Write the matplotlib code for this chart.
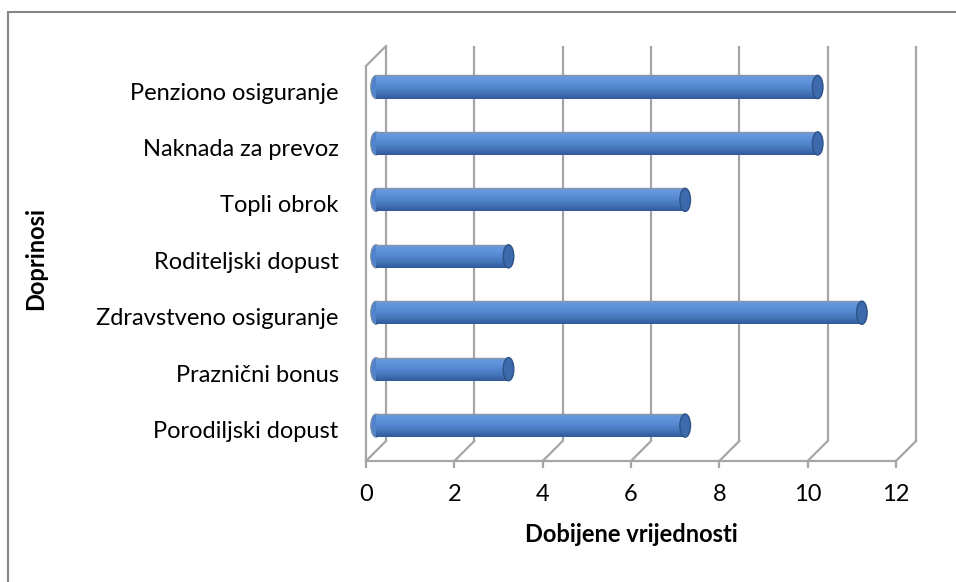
import numpy as np
import matplotlib.pyplot as plt
import matplotlib.transforms as mtransforms
from matplotlib.patches import Ellipse, Rectangle
from matplotlib.colors import LinearSegmentedColormap

plt.rcParams['font.family'] = ['Lato', 'DejaVu Sans']

kategorije = ['Porodiljski dopust', 'Praznični bonus', 'Zdravstveno osiguranje',
              'Roditeljski dopust', 'Topli obrok', 'Naknada za prevoz',
              'Penziono osiguranje']
vrijednosti = [7, 3, 11, 3, 7, 10, 10]
x_ticks = [0, 2, 4, 6, 8, 10, 12]

W, H = 956, 582
fig = plt.figure(figsize=(W / 100, H / 100), dpi=100)

# okvir grafikona (desna i donja ivica su izvan slike)
fig.patches.append(Rectangle((8 / W, -0.1), 1.2, (H - 12) / H + 0.1,
                             transform=fig.transFigure, fill=False,
                             edgecolor='#868686', linewidth=1.5))

# osa je u "srednjoj dubini" 3D prikaza
ax = fig.add_axes([376 / W, (H - 451) / H, 530 / W, 395 / H])
ax.set_xlim(0, 12)
ax.set_ylim(-0.45, 6.55)
for s in ax.spines.values():
    s.set_visible(False)
ax.patch.set_visible(False)

d = 10 / 100  # pomak dubine u inčima (10 px)
front = ax.transData + mtransforms.ScaledTranslation(-d, -d, fig.dpi_scale_trans)
back = ax.transData + mtransforms.ScaledTranslation(d, d, fig.dpi_scale_trans)
ident = mtransforms.IdentityTransform()
y0, y1 = ax.get_ylim()
grid_c = '#a6a6a6'
lw = 1.6
kw = dict(color=grid_c, lw=lw, clip_on=False, zorder=1)

# zadnji zid - mreža
for xv in x_ticks:
    ax.plot([xv, xv], [y0, y1], transform=back, solid_capstyle='butt', **kw)

# pod - kose linije od prednje do zadnje ivice
fwd = front.transform([(xv, y0) for xv in x_ticks])
bwd = back.transform([(xv, y0) for xv in x_ticks])
for (fx, fy), (bx, by) in zip(fwd, bwd):
    ax.plot([fx, bx], [fy, by], transform=ident, **kw)
ax.plot([0, 12], [y0, y0], transform=front, solid_capstyle='butt', **kw)
# oznake ispod prednje ivice
for fx, fy in fwd:
    ax.plot([fx, fx], [fy, fy - 6], transform=ident, **kw)

# lijevi bočni zid
ax.plot([0, 0], [y0, y1], transform=front, **kw)
ft = front.transform((0, y1))
bt = back.transform((0, y1))
ax.plot([ft[0], bt[0]], [ft[1], bt[1]], transform=ident, **kw)

# cilindri
cmap = LinearSegmentedColormap.from_list('cyl', ['#6a9be0', '#6194dc', '#5487cf',
                                                 '#4575b8', '#30599a'])
grad = np.linspace(0, 1, 64).reshape(-1, 1)
bh = 0.41
cap_w = 0.24
bars = ax.barh(range(len(kategorije)), vrijednosti, height=bh, left=0.0,
               color='#4f81c6', edgecolor='none', zorder=3)
for b, v in zip(bars, vrijednosti):
    yc = b.get_y() + bh / 2
    ax.add_patch(Ellipse((0.0, yc), cap_w, bh, facecolor='#5083c9',
                         edgecolor='#7f8fa6', lw=0.8, zorder=3, clip_on=False))
    im = ax.imshow(grad, cmap=cmap, aspect='auto', zorder=4,
                   extent=(0.0, v, yc - bh / 2, yc + bh / 2),
                   interpolation='bicubic')
    im.set_clip_path(b)
    ax.plot([0.0, v], [yc + bh / 2, yc + bh / 2], color='#8795aa', lw=1.0, zorder=5)
    ax.add_patch(Ellipse((v, yc), cap_w, bh, facecolor='#3c6aab',
                         edgecolor='#2d5388', lw=1.0, zorder=6))

ax.set_xlim(0, 12)
ax.set_ylim(y0, y1)

# oznake
ax.set_xticks(x_ticks)
ax.set_xticklabels([str(t) for t in x_ticks], fontsize=17)
ax.tick_params(axis='x', length=0, pad=24)
for lab in ax.get_xticklabels():
    lab.set_transform(lab.get_transform() +
                      mtransforms.ScaledTranslation(-d, 0, fig.dpi_scale_trans))
ax.set_yticks(range(len(kategorije)))
ax.set_yticklabels(kategorije, fontsize=17)
ax.tick_params(axis='y', length=0, pad=27)
for lab in ax.get_yticklabels():
    lab.set_transform(lab.get_transform() +
                      mtransforms.ScaledTranslation(0, -0.04, fig.dpi_scale_trans))

fig.text(631 / W, 1 - 535 / H, 'Dobijene vrijednosti', fontsize=17,
         fontweight='bold', ha='center', va='center')
fig.text(36 / W, 1 - 258 / H, 'Doprinosi', fontsize=17, fontweight='bold',
         ha='center', va='center', rotation=90)

fig.savefig('out.png', dpi=100)
